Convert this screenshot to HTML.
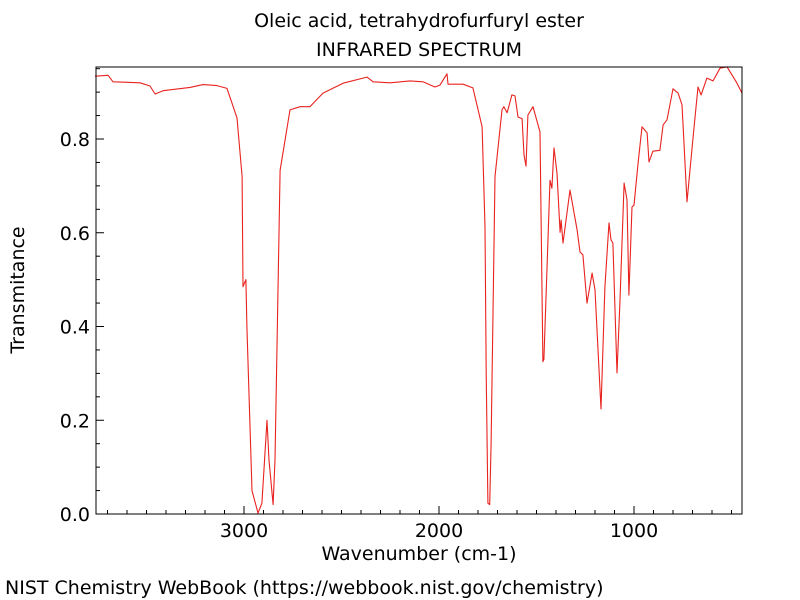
<!DOCTYPE html>
<html><head><meta charset="utf-8"><style>
body{margin:0;background:#fff;}
svg{display:block;font-family:"DejaVu Sans","Liberation Sans",sans-serif;}
</style></head><body>
<svg id="chart" width="800" height="600">
<text x="419" y="27" font-size="19" text-anchor="middle">Oleic acid, tetrahydrofurfuryl ester</text>
<text x="419" y="56" font-size="19" text-anchor="middle">INFRARED SPECTRUM</text>
<text x="419" y="560" font-size="19" text-anchor="middle">Wavenumber (cm-1)</text>
<text transform="translate(24,290) rotate(-90)" font-size="19" text-anchor="middle">Transmitance</text>
<text x="5" y="594" font-size="19">NIST Chemistry WebBook (https://webbook.nist.gov/chemistry)</text>
<g id="ticks"></g>
<path id="spectrum" fill="none" stroke="#e8231f" stroke-width="1.1" stroke-linejoin="round"></path>
<rect x="96" y="67" width="646" height="447" fill="none" stroke="#000" stroke-width="1"></rect>
</svg>
<script>
const wavenumbers=[3764,3697,3672,3533,3482,3456,3415,3277,3210,3138,3087,3036,3010,3005,2990,2985,2959,2928,2908,2882,2872,2851,2841,2815,2764,2713,2662,2595,2492,2369,2338,2251,2149,2082,2021,1995,1959,1954,1877,1826,1779,1764,1758,1749,1740,1733,1713,1677,1667,1651,1626,1610,1595,1574,1564,1554,1544,1518,1482,1467,1462,1431,1421,1410,1395,1379,1374,1364,1328,1292,1277,1262,1241,1215,1200,1169,1149,1128,1118,1108,1087,1072,1051,1036,1026,1010,1000,979,959,933,923,903,867,851,831,800,774,754,728,697,672,656,626,595,559,523,472,446];
const transmittance=[0.934,0.936,0.922,0.920,0.913,0.896,0.903,0.910,0.916,0.914,0.908,0.845,0.72,0.485,0.50,0.40,0.05,0.002,0.023,0.20,0.115,0.02,0.115,0.733,0.862,0.869,0.869,0.898,0.919,0.932,0.922,0.92,0.924,0.922,0.911,0.915,0.939,0.917,0.917,0.909,0.826,0.612,0.30,0.023,0.02,0.15,0.72,0.862,0.869,0.856,0.894,0.892,0.847,0.843,0.766,0.742,0.851,0.869,0.815,0.325,0.33,0.712,0.695,0.781,0.727,0.601,0.627,0.578,0.691,0.606,0.559,0.553,0.45,0.514,0.478,0.224,0.484,0.621,0.585,0.578,0.301,0.456,0.706,0.67,0.467,0.655,0.659,0.749,0.826,0.813,0.751,0.774,0.776,0.83,0.841,0.907,0.898,0.873,0.666,0.804,0.911,0.894,0.930,0.924,0.951,0.954,0.919,0.898];
const xTickValues=[3000,2000,1000];
const yTickValues=[0.0,0.2,0.4,0.6,0.8];
const X0=96,X1=742,Y0=67,Y1=514;
const xScale=w=>244+(3000-w)*0.195;
const yScale=t=>514-t*468.75;
const NS="http://www.w3.org/2000/svg";
const tg=document.getElementById('ticks');
function line(x1,y1,x2,y2,name){const l=document.createElementNS(NS,'line');l.setAttribute('x1',x1);l.setAttribute('y1',y1);l.setAttribute('x2',x2);l.setAttribute('y2',y2);l.setAttribute('stroke','#000');l.setAttribute('stroke-width','1');


tg.appendChild(l);}
for(let w=3700;w>=500;w-=100){const x=xScale(w);const major=w%1000===0;line(x,Y1,x,Y1-(major?8:4),major?'x-major-tick':'x-minor-tick');}
for(let t=0.05;t<0.96;t+=0.05){const y=yScale(t);const major=Math.abs(t*5-Math.round(t*5))<1e-6;line(X0,y,X0+(major?8:4),y,major?'y-major-tick':'y-minor-tick');}
xTickValues.forEach(v=>{const t=document.createElementNS(NS,'text');t.setAttribute('x',xScale(v));t.setAttribute('y',Y1+23);t.setAttribute('font-size','19');t.setAttribute('text-anchor','middle');t.textContent=v;


tg.appendChild(t);});
yTickValues.forEach(v=>{const t=document.createElementNS(NS,'text');t.setAttribute('x',X0-6);t.setAttribute('y',yScale(v)+7);t.setAttribute('font-size','19');t.setAttribute('text-anchor','end');t.textContent=v.toFixed(1);


tg.appendChild(t);});
let d='';wavenumbers.forEach((w,i)=>{d+=(i?'L':'M')+xScale(w).toFixed(1)+','+yScale(transmittance[i]).toFixed(1);});
document.getElementById('spectrum').setAttribute('d',d);
</script>
</body></html>
